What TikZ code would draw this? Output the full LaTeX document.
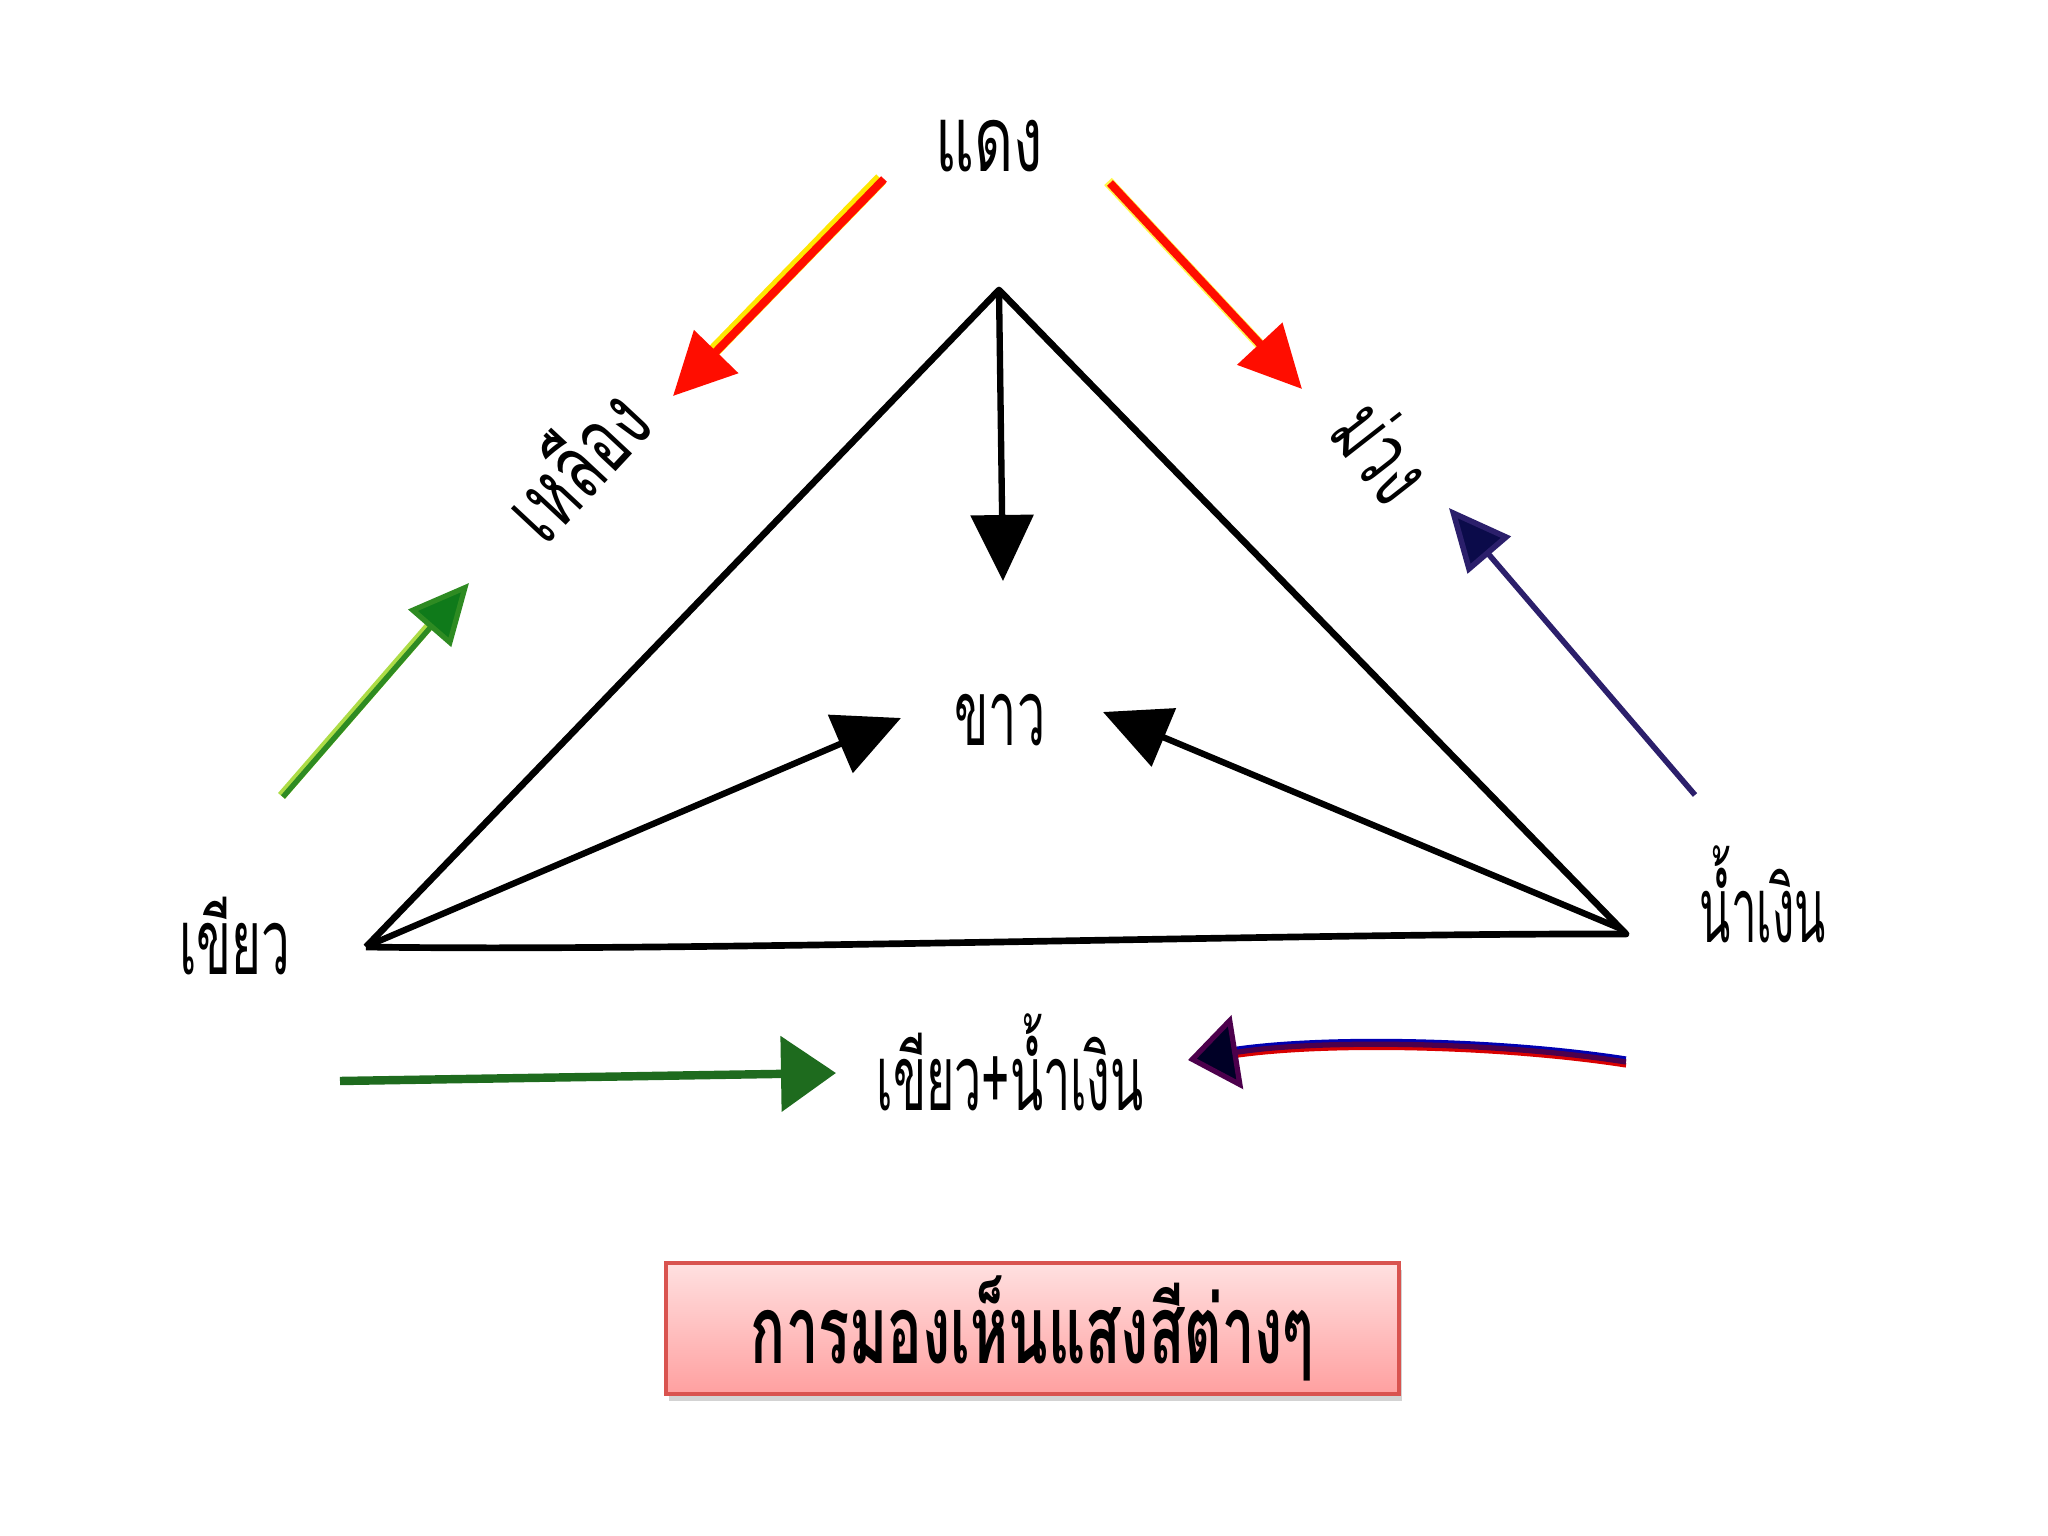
\documentclass[tikz,border=0pt]{standalone}
\usepackage{fontspec}
\usepackage{graphicx}
\newfontfamily\thaifont[Script=Thai]{Loma}
\usetikzlibrary{arrows.meta,shadows}
\definecolor{boxborder}{HTML}{D9534F}
\definecolor{boxtop}{HTML}{FFE0E0}
\definecolor{boxbot}{HTML}{FFA0A0}
\definecolor{gdark}{HTML}{0F7A1A}
\definecolor{gline}{HTML}{2E8B22}
\definecolor{gbot}{HTML}{1E6B1E}
\definecolor{navy}{HTML}{0B0B4A}
\definecolor{navyline}{HTML}{2B1F6B}
\tikzset{
  lbl/.style={font=\thaifont\fontsize{26}{30}\selectfont, inner sep=0pt},
  blackarr/.style={line width=1.8pt, black, -{Triangle[length=0.66cm,width=0.62cm]}},
  blackline/.style={line width=1.9pt, black, line join=round},
  redarr/.style={line width=2.3pt, red!90!orange, -{Triangle[length=0.62cm,width=0.6cm]}},
  yellowedge/.style={line width=3.8pt, yellow!90!orange},
}
\newcommand{\cond}[2]{\scalebox{#1}[1]{#2}}
\begin{document}
\begin{tikzpicture}
\useasboundingbox (0,0) rectangle (20.48,-15.36);
% vertices
\coordinate (A) at (9.99,-2.90);
\coordinate (L) at (3.66,-9.47);
\coordinate (R) at (16.26,-9.34);
% labels
\node[lbl] (daeng) at (9.89,-1.46) {\cond{0.66}{แดง}};
\node[lbl, rotate=47] (lueang) at (5.73,-4.62) {\cond{0.66}{เหลือง}};
\node[lbl, rotate=-52] (muang) at (13.84,-4.50) {\cond{0.62}{ม่วง}};
\node[lbl] (khao) at (10.00,-7.20) {\cond{0.55}{ขาว}};
\node[lbl] (khiao) at (2.35,-9.36) {\cond{0.56}{เขียว}};
\node[lbl] (namngoen) at (17.63,-8.94) {\cond{0.5}{น้ำเงิน}};
\node[lbl] (mix) at (10.10,-10.62) {\cond{0.53}{เขียว+น้ำเงิน}};
% triangle
\draw[blackline] (L) -- (A) -- (R) .. controls (13,-9.33) and (7,-9.52) .. (L);
% inner arrows
\coordinate (downtip) at (10.03,-5.81);
\coordinate (lefttip) at (9.01,-7.18);
\coordinate (righttip) at (11.03,-7.12);
\draw[blackarr] (A) -- (downtip);
\draw[blackarr] ([shift={(0.06,0.03)}]L) -- (lefttip);
\draw[blackarr] ([shift={(-0.07,0.06)}]R) -- (righttip);
% red arrows
\coordinate (r1s) at (8.84,-1.79);
\coordinate (r1t) at (6.73,-3.96);
\coordinate (r2s) at (11.10,-1.83);
\coordinate (r2t) at (13.02,-3.89);
\draw[yellowedge, shorten >=0.5cm] ([shift={(-0.03,0.0)}]r1s) -- ([shift={(-0.03,0.0)}]r1t);
\draw[redarr] (r1s) -- (r1t);
\draw[yellowedge, yellow!70!white, line width=3pt, shorten >=0.5cm] ([shift={(-0.02,0.015)}]r2s) -- ([shift={(-0.02,0.015)}]r2t);
\draw[redarr] (r2s) -- (r2t);
% green diagonal
\coordinate (g1s) at (2.83,-7.97);
\coordinate (g1t) at (4.69,-5.83);
\draw[line width=2.6pt, yellow!60!green!80!white, shorten >=0.4cm] ([shift={(-0.015,0.01)}]g1s) -- ([shift={(-0.015,0.01)}]g1t);
\draw[line width=1.5pt, gline, -{Triangle[length=0.6cm,width=0.56cm,fill=gdark]}] (g1s) -- (g1t);
% blue diagonal
\coordinate (b1s) at (16.95,-7.95);
\coordinate (b1t) at (14.49,-5.08);
\draw[line width=1.6pt, navyline, -{Triangle[length=0.62cm,width=0.56cm,fill=navy]}] (b1s) -- (b1t);
% bottom arrows
\coordinate (g2s) at (3.40,-10.81);
\coordinate (g2t) at (8.36,-10.73);
\draw[line width=2.4pt, gbot, -{Triangle[length=0.55cm,width=0.74cm]}] (g2s) -- (g2t);
\coordinate (p2s) at (16.26,-10.62);
\coordinate (p2t) at (11.88,-10.60);
\draw[line width=1.2pt, red!85!black, shorten >=0.4cm] ([yshift=-0.035cm]p2s) .. controls (15.0,-10.46) and (13.2,-10.42) .. ([yshift=-0.035cm]p2t);
\draw[line width=1.2pt, blue!70!black, shorten >=0.4cm] ([yshift=0.035cm]p2s) .. controls (15.0,-10.39) and (13.2,-10.35) .. ([yshift=0.035cm]p2t);
\draw[line width=1.5pt, violet!60!black, -{Triangle[length=0.5cm,width=0.74cm,fill=black!85!blue]}] (p2s) .. controls (15.0,-10.42) and (13.2,-10.39) .. (p2t);
% title box
\node[draw=boxborder, line width=1.2pt, top color=boxtop, bottom color=boxbot,
      minimum width=7.33cm, minimum height=1.31cm, inner sep=0pt,
      drop shadow={shadow xshift=0.03cm, shadow yshift=-0.07cm, opacity=0.35},
      font=\thaifont\bfseries\fontsize{27}{30}\selectfont] (title) at (10.325,-13.285) {\scalebox{0.61}[1]{การมองเห็นแสงสีต่างๆ}};
\end{tikzpicture}
\end{document}
